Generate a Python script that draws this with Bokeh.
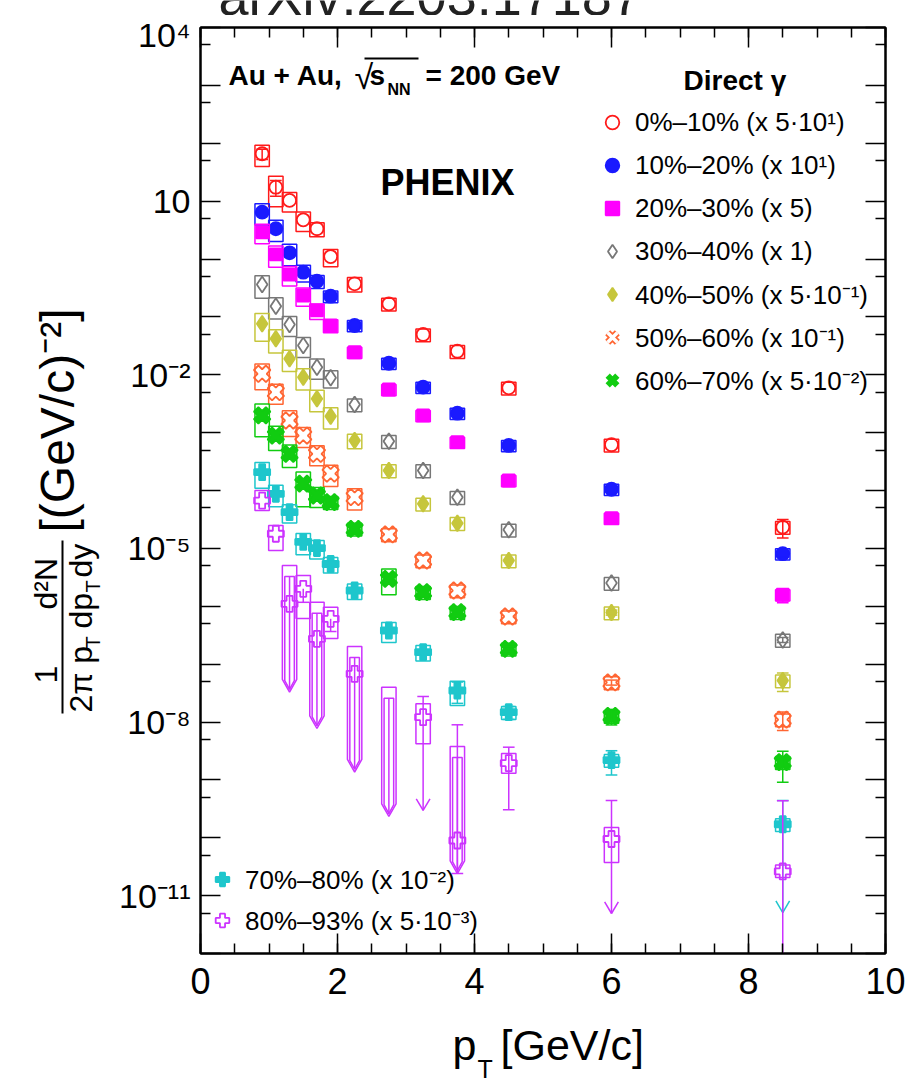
import math
from bokeh.plotting import figure
from bokeh.layouts import row, column
from bokeh.models import (Range1d, FixedTicker, CustomJSTickFormatter, LinearAxis, LogAxis,
                          Label, Legend, LegendItem, BoxAnnotation, ColumnDataSource)
from bokeh.embed import file_html
from bokeh.resources import INLINE

FONT = "Liberation Sans"
NAN = float("nan")

# ---------------- data (values as plotted, i.e. already scaled) ----------------
pt = [0.9, 1.1, 1.3, 1.5, 1.7, 1.9, 2.25, 2.75, 3.25, 3.75, 4.5, 6.0, 8.5]

centrality = ["0%–10%", "10%–20%", "20%–30%", "30%–40%", "40%–50%",
              "50%–60%", "60%–70%", "70%–80%", "80%–93%"]
scale_text = ["(x 5·10¹)", "(x 10¹)", "(x 5)", "(x 1)", "(x 5·10⁻¹)",
              "(x 10⁻¹)", "(x 5·10⁻²)", "(x 10⁻²)", "(x 5·10⁻³)"]

y_0_10 = [65.8, 17.4, 10.3, 4.75, 3.33, 1.10, 0.373, 0.168, 0.0496, 0.0255, 5.94e-3, 6.17e-4, 2.33e-5]
y_10_20 = [6.44, 3.33, 1.28, 0.591, 0.413, 0.228, 0.0710, 0.0158, 6.10e-3, 2.17e-3, 6.0e-4, 1.05e-4, 8.09e-6]
y_20_30 = [2.90, 1.20, 0.540, 0.234, 0.129, 0.0710, 0.0245, 5.56e-3, 1.98e-3, 6.84e-4, 1.49e-4, 3.32e-5, 1.58e-6]
y_30_40 = [0.362, 0.153, 0.0738, 0.0320, 0.0135, 8.85e-3, 3.06e-3, 7.11e-4, 2.22e-4, 7.66e-5, 2.09e-5, 2.51e-6, 2.62e-7]
y_40_50 = [0.0759, 0.0418, 0.0189, 9.08e-3, 3.84e-3, 1.92e-3, 7.31e-4, 2.22e-4, 5.89e-5, 2.72e-5, 6.17e-6, 7.80e-7, 5.19e-8]
y_50_60 = [0.0104, 4.99e-3, 1.62e-3, 8.91e-4, 4.31e-4, 1.95e-4, 7.66e-5, 1.74e-5, 6.17e-6, 1.87e-6, 6.65e-7, 4.82e-8, 1.10e-8]
y_60_70 = [1.98e-3, 8.91e-4, 4.31e-4, 1.31e-4, 8.20e-5, 6.28e-5, 2.18e-5, 2.98e-6, 1.75e-6, 7.89e-7, 1.84e-7, 1.27e-8, 2.02e-9]
y_70_80 = [2.07e-4, 8.77e-5, 4.22e-5, 1.29e-5, 1.01e-5, 5.37e-6, 1.87e-6, 3.81e-7, 1.61e-7, 3.50e-8, 1.48e-8, 2.20e-9, 1.71e-10]
y_80_93 = [6.71e-5, 1.79e-5, 1.10e-6, 2.00e-6, 2.74e-7, 6.07e-7, 6.81e-8, NAN, 1.21e-8, 8.96e-11, 1.94e-9, 9.51e-11, 2.62e-11]

# relative systematic uncertainties (boxes)
sys_0_10 = [0.40, 0.54, 0.37, 0.37, 0.27, 0.33, 0.28, 0.25, 0.25, 0.25, 0.25, 0.25, 0.25]
sys_10_20 = [0.40, 0.40, 0.40, 0.32, 0.25, 0.23, 0.22, 0.22, 0.22, 0.22, 0.22, 0.22, 0.22]
sys_20_30 = [0.37, 0.40, 0.37, 0.35, 0.30, 0.25, 0.22, 0.22, 0.22, 0.22, 0.22, 0.22, 0.22]
sys_30_40 = [0.42, 0.40, 0.38, 0.38, 0.38, 0.33, 0.25, 0.25, 0.25, 0.25, 0.25, 0.25, 0.25]
sys_40_50 = [0.50, 0.43, 0.40, 0.40, 0.40, 0.40, 0.28, 0.25, 0.25, 0.25, 0.25, 0.25, 0.25]
sys_50_60 = [0.47, 0.38, 0.47, 0.38, 0.38, 0.40, 0.40, 0.25, 0.25, 0.25, 0.25, 0.25, 0.25]
sys_60_70 = [0.57, 0.45, 0.42, 0.60, 0.38, 0.25, 0.25, 0.47, 0.25, 0.25, 0.25, 0.25, 0.25]
sys_70_80 = [0.47, 0.40, 0.35, 0.40, 0.35, 0.30, 0.30, 0.38, 0.30, 0.45, 0.25, 0.25, 0.25]

# relative statistical uncertainties (error bars)
stat_0_10 = [0.2, 0.3, 0, 0, 0, 0, 0, 0, 0, 0, 0, 0, 0.35]
stat_10_20 = [0, 0, 0, 0, 0, 0, 0, 0, 0, 0, 0, 0, 0.12]
stat_20_30 = [0, 0, 0, 0, 0, 0, 0, 0, 0, 0, 0, 0, 0.27]
stat_30_40 = [0, 0, 0, 0, 0, 0, 0, 0, 0, 0, 0, 0, 0.1]
stat_40_50 = [0, 0, 0, 0, 0, 0, 0, 0, 0, 0, 0, 0.1, 0.35]
stat_50_60 = [0, 0, 0, 0, 0, 0, 0, 0, 0, 0, 0, 0.1, 0.35]
stat_60_70 = [0, 0, 0, 0, 0, 0, 0, 0, 0, 0, 0.1, 0.3, 0.55]
stat_70_80 = [0, 0, 0, 0, 0, 0, 0, 0, 0, 0.4, 0.25, 0.45, 0]

# 70-80%: upper limit of the last point (stat bar with arrow)
lim_top_70_80 = [NAN] * 12 + [4.40e-10]
lim_tip_70_80 = [NAN] * 12 + [5.1e-12]

# 80-93%: explicit boxes, upper-limit arrows and statistical bars
box_hi_80_93 = [1.0e-4, 2.48e-5, 5.06e-6, 3.40e-6, 1.17e-6, 9.64e-7, 2.01e-7, 3.99e-8, 2.06e-8, 3.77e-9, 2.86e-9, 1.50e-10, 3.38e-11]
box_lo_80_93 = [4.51e-5, 9.18e-6, NAN, 6.14e-7, NAN, 2.77e-7, NAN, NAN, 4.20e-9, NAN, 1.30e-9, 3.73e-11, 2.06e-11]
ul_tip_80_93 = [NAN, NAN, 3.27e-8, NAN, 7.72e-9, NAN, 1.36e-9, 2.33e-10, NAN, 2.41e-11, NAN, NAN, NAN]
stat_hi_80_93 = [NAN, NAN, NAN, NAN, NAN, NAN, NAN, NAN, 2.76e-8, 8.95e-9, 3.67e-9, 4.40e-10, 4.37e-10]
stat_lo_80_93 = [NAN, NAN, NAN, 1.17e-6, NAN, 3.66e-7, NAN, NAN, 2.96e-10, 2.41e-11, 3.04e-10, 4.91e-12, 1e-13]
stat_arrow_80_93 = [0, 0, 0, 0, 0, 0, 0, 0, 1, 0, 0, 1, 0]

x_major = [0, 2, 4, 6, 8, 10]

# ---------------- styles ----------------
styles = [
    dict(marker="circle", color="#ff1a1a", fill=False, size=13, angle=0.0),
    dict(marker="circle", color="#1a1aff", fill=True, size=13, angle=0.0),
    dict(marker="square", color="#ff00ff", fill=True, size=12, angle=0.0),
    dict(marker="diamond", color="#777777", fill=False, size=16, angle=0.0),
    dict(marker="diamond", color="#c6c63c", fill=True, size=16, angle=0.0),
    dict(marker="plus", color="#ff6633", fill=False, size=17, angle=math.pi / 4),
    dict(marker="plus", color="#11cc11", fill=True, size=17, angle=math.pi / 4),
    dict(marker="plus", color="#1ec6cc", fill=True, size=16, angle=0.0),
    dict(marker="plus", color="#cc33ff", fill=False, size=16, angle=0.0),
]

# page geometry
YL_W = 105                  # width of the y-title strip
TOP_H = 15                  # height of the strip above the plot
MAIN_H = 998                # height of the main figure
FL, FR, FT, FB = 200, 885, 27, 953   # frame edges in page pixels
BORDER_L = FL - YL_W
BORDER_R = 909 - FR
HW = 0.105                  # half width of systematic boxes (pT units)
CAP = 0.085                 # half width of error bar caps

p = figure(width=909 - YL_W, height=MAIN_H, y_axis_type="log",
           x_range=Range1d(0, 10), y_range=Range1d(1e-12, 1e4),
           output_backend="svg", toolbar_location=None,
           min_border_left=BORDER_L, min_border_right=BORDER_R, min_border_top=FT - TOP_H,
           min_border_bottom=TOP_H + MAIN_H - FB)
p.grid.visible = False
p.outline_line_color = "black"
p.outline_line_width = 2
p.background_fill_color = "white"
p.border_fill_color = "white"

xt = FixedTicker(ticks=x_major, minor_ticks=[0.5 * i for i in range(21)])
yt = FixedTicker(ticks=[10.0 ** k for k in range(-12, 5)], minor_ticks=[5 * 10.0 ** k for k in range(-13, 4)])

bottom_ax = p.xaxis[0]
left_ax = p.yaxis[0]
bottom_ax.ticker = xt
left_ax.ticker = yt
left_ax.formatter = CustomJSTickFormatter(code="""
const e = Math.round(Math.log10(tick));
if ((((e - 1) % 3) + 3) % 3 !== 0) { return ""; }
if (e === 1) { return "10"; }
const sup = {"-": "\u207b", "0": "\u2070", "1": "\u00b9", "2": "\u00b2", "3": "\u00b3",
             "4": "\u2074", "5": "\u2075", "6": "\u2076", "7": "\u2077", "8": "\u2078", "9": "\u2079"};
let s = "";
for (const c of String(e)) { s += sup[c]; }
return "10" + s;
""")
top_ax = LinearAxis(ticker=xt, formatter=CustomJSTickFormatter(code="return '';"))
right_ax = LogAxis(ticker=yt, formatter=CustomJSTickFormatter(code="return '';"))
p.add_layout(top_ax, "above")
p.add_layout(right_ax, "right")

for ax in [bottom_ax, left_ax, top_ax, right_ax]:
    ax.major_tick_in = 20
    ax.major_tick_out = 0
    ax.minor_tick_in = 10
    ax.minor_tick_out = 0
    ax.major_tick_line_color = "black"
    ax.minor_tick_line_color = "black"
    ax.major_tick_line_width = 1.5
    ax.minor_tick_line_width = 1.5
    ax.axis_line_color = "black"
    ax.axis_line_width = 2
    ax.major_label_text_font = FONT
    ax.major_label_text_color = "black"
bottom_ax.major_label_text_font_size = "36px"
bottom_ax.major_label_standoff = 14
left_ax.major_label_text_font_size = "34px"
left_ax.major_label_standoff = 10
top_ax.major_label_text_font_size = "1px"
right_ax.major_label_text_font_size = "1px"

# ---------------- data drawing ----------------
series_y = [y_0_10, y_10_20, y_20_30, y_30_40, y_40_50, y_50_60, y_60_70, y_70_80, y_80_93]
series_sys = [sys_0_10, sys_10_20, sys_20_30, sys_30_40, sys_40_50, sys_50_60, sys_60_70, sys_70_80]
series_stat = [stat_0_10, stat_10_20, stat_20_30, stat_30_40, stat_40_50, stat_50_60, stat_60_70, stat_70_80]

seg = dict(x0=[], y0=[], x1=[], y1=[], c=[])


def add_seg(x0, y0, x1, y1, c):
    seg["x0"].append(x0); seg["y0"].append(y0)
    seg["x1"].append(x1); seg["y1"].append(y1)
    seg["c"].append(c)


def add_arrowhead(x, tip, c):
    add_seg(x - 0.1, tip * 10 ** 0.2, x, tip, c)
    add_seg(x + 0.1, tip * 10 ** 0.2, x, tip, c)


renderers = []
for i, ys in enumerate(series_y):
    st = styles[i]
    col = st["color"]
    if i < 8:
        tops = [v * (1 + r) for v, r in zip(ys, series_sys[i])]
        bots = [v * (1 - r) for v, r in zip(ys, series_sys[i])]
    else:
        tops = [h if not math.isnan(l) else NAN for h, l in zip(box_hi_80_93, box_lo_80_93)]
        bots = list(box_lo_80_93)
    src = ColumnDataSource(dict(x=pt, y=ys,
                                left=[x - HW for x in pt], right=[x + HW for x in pt],
                                top=tops, bottom=bots))
    p.quad(left="left", right="right", top="top", bottom="bottom", source=src,
           fill_color=None, line_color=col, line_width=1.5)
    r = p.scatter("x", "y", source=src, marker=st["marker"], size=st["size"], angle=st["angle"],
                  line_color=col, fill_color=col if st["fill"] else None,
                  line_width=1.8)
    renderers.append(r)

    if i < 8:
        for x, v, s in zip(pt, ys, series_stat[i]):
            if s > 0:
                lo, hi = v * (1 - s), v * (1 + s)
                add_seg(x, lo, x, hi, col)
                add_seg(x - CAP, lo, x + CAP, lo, col)
                add_seg(x - CAP, hi, x + CAP, hi, col)

# 70-80% upper-limit bar
for x, top, tip in zip(pt, lim_top_70_80, lim_tip_70_80):
    if not math.isnan(top):
        c = styles[7]["color"]
        add_seg(x, top, x, tip, c)
        add_seg(x - CAP, top, x + CAP, top, c)
        add_arrowhead(x, tip, c)

# 80-93% statistical bars
pc = styles[8]["color"]
for x, v, hi, lo, arr in zip(pt, y_80_93, stat_hi_80_93, stat_lo_80_93, stat_arrow_80_93):
    if math.isnan(hi) and math.isnan(lo):
        continue
    top = v if math.isnan(hi) else hi
    bot = v if math.isnan(lo) else lo
    add_seg(x, bot, x, top, pc)
    if not math.isnan(hi):
        add_seg(x - CAP, hi, x + CAP, hi, pc)
    if not math.isnan(lo):
        if arr:
            add_arrowhead(x, lo, pc)
        elif lo > 1e-12:
            add_seg(x - CAP, lo, x + CAP, lo, pc)

# 80-93% upper-limit arrows (systematic box drawn as arrow)
ul_xs, ul_ys = [], []
for x, top, tip in zip(pt, box_hi_80_93, ul_tip_80_93):
    if math.isnan(tip):
        continue
    kink = tip * 10 ** 0.22
    ul_xs.append([x - HW, x + HW, x + HW, x, x - HW, x - HW])
    ul_ys.append([top, top, kink, tip, kink, top])
    iw = HW - 0.035
    itop = top / 10 ** 0.19
    itip = tip * 10 ** 0.05
    ikink = itip * 10 ** 0.15
    ul_xs.append([x - iw, x + iw, x + iw, x, x - iw, x - iw])
    ul_ys.append([itop, itop, ikink, itip, ikink, itop])
    add_seg(x, itop, x, itip, pc)
p.patches(ul_xs, ul_ys, fill_color=None, line_color=pc, line_width=1.5)

p.segment("x0", "y0", "x1", "y1", source=ColumnDataSource(seg), line_color="c", line_width=1.5)

# legend swatches for the two saltire markers (legend glyphs are drawn unrotated)
sw_open_a = p.scatter(x=[NAN], y=[NAN], marker="x", size=14, line_color=styles[5]["color"], line_width=7)
sw_open_b = p.scatter(x=[NAN], y=[NAN], marker="x", size=14, line_color="white", line_width=3.5)
sw_fill = p.scatter(x=[NAN], y=[NAN], marker="x", size=14, line_color=styles[6]["color"], line_width=6)
legend_renderers = [[r] for r in renderers]
legend_renderers[5] = [sw_open_a, sw_open_b]
legend_renderers[6] = [sw_fill]

# ---------------- legends ----------------
common = dict(label_text_font=FONT, label_text_font_size="26px", label_text_color="black",
              glyph_width=34, glyph_height=36, label_standoff=6, padding=0, margin=0,
              border_line_alpha=0, background_fill_alpha=0, label_text_baseline="middle")
leg_top = Legend(items=[LegendItem(label=f"{centrality[i]} {scale_text[i]}", renderers=legend_renderers[i])
                        for i in range(7)],
                 location=(395, 555), spacing=7, **common)
leg_bot = Legend(items=[LegendItem(label=f"{centrality[i]} {scale_text[i]}", renderers=legend_renderers[i])
                        for i in range(7, 9)],
                 location=(5, 15), spacing=5, **common)
p.add_layout(leg_top)
p.add_layout(leg_bot)


# ---------------- texts in the main figure (screen units from frame) ----------------
def add_text(text, X, Y, size, bold=False, align="left", color="black"):
    p.add_layout(Label(x=X - FL, y=FB - Y, x_units="screen", y_units="screen", text=text,
                       text_font=FONT, text_font_size=f"{size}px",
                       text_font_style="bold" if bold else "normal",
                       text_align=align, text_baseline="middle", text_color=color))


add_text("Au + Au,", 228, 75, 28, bold=True)
add_text("√", 354, 76, 34)
p.add_layout(BoxAnnotation(left=364 - FL, right=418 - FL, top=FB - 57, bottom=FB - 59,
                           left_units="screen", right_units="screen",
                           top_units="screen", bottom_units="screen",
                           fill_color="black", fill_alpha=1.0, line_alpha=0))
add_text("s", 369, 75, 28, bold=True)
add_text("NN", 387, 89, 16, bold=True)
add_text("= 200 GeV", 425, 75, 28, bold=True)
add_text("PHENIX", 380, 182, 36, bold=True)
add_text("Direct γ", 683, 80, 28, bold=True)


def strip_figure(width, height, x0, x1, y0, y1, bl=0, br=0):
    f = figure(width=width, height=height, x_range=Range1d(x0, x1), y_range=Range1d(y0, y1),
               output_backend="svg", toolbar_location=None,
               min_border_left=bl, min_border_right=br, min_border_top=0, min_border_bottom=0,
               x_axis_location=None, y_axis_location=None, outline_line_color=None)
    f.grid.visible = False
    f.background_fill_color = "white"
    f.border_fill_color = "white"
    return f


# ---------------- strip above the plot (cut-off watermark) ----------------
top_strip = strip_figure(909 - YL_W, TOP_H, FL, FR, 0, TOP_H, BORDER_L, BORDER_R)
top_strip.add_layout(Label(x=218, y=TOP_H + 5, text="arXiv:2203.17187", text_font=FONT,
                           text_font_size="54px", text_align="left", text_baseline="middle",
                           text_color="#222222"))

# ---------------- y-axis title strip ----------------
ylab = strip_figure(YL_W, 1088, 0, YL_W, 0, 1088)
A = math.pi / 2


def ytext(text, X, Ybottom, size):
    ylab.add_layout(Label(x=X, y=1088 - Ybottom, text=text, text_font=FONT,
                          text_font_size=f"{size}px", angle=A, text_align="left",
                          text_baseline="middle", text_color="black"))


ytext("1", 45, 683, 32)
ytext("2π p", 80, 712, 32)
ytext("T", 92, 648, 20)
ytext("d²N", 45, 609, 32)
ytext("dp", 80, 628, 32)
ytext("T", 92, 592, 20)
ytext("dy", 80, 577, 32)
ylab.add_layout(BoxAnnotation(left=61, right=63, bottom=1088 - 713, top=1088 - 540,
                              fill_color="black", fill_alpha=1.0, line_alpha=0))
ytext("[(GeV/c)⁻²]", 57, 532, 48)

# ---------------- x-axis title strip ----------------
XL_H = 1088 - TOP_H - MAIN_H
xlab = strip_figure(909 - YL_W, XL_H, FL, FR, 0, XL_H, BORDER_L, BORDER_R)


def xtext(text, X, Y, size):
    xlab.add_layout(Label(x=X, y=1088 - Y, text=text, text_font=FONT,
                          text_font_size=f"{size}px", text_align="left",
                          text_baseline="middle", text_color="black"))


xtext("p", 452, 1044, 43)
xtext("T", 477, 1068, 25)
xtext("[GeV/c]", 500, 1044, 43)

layout = row(ylab, column(top_strip, p, xlab))
open("out.html", "w").write(file_html(layout, INLINE))
